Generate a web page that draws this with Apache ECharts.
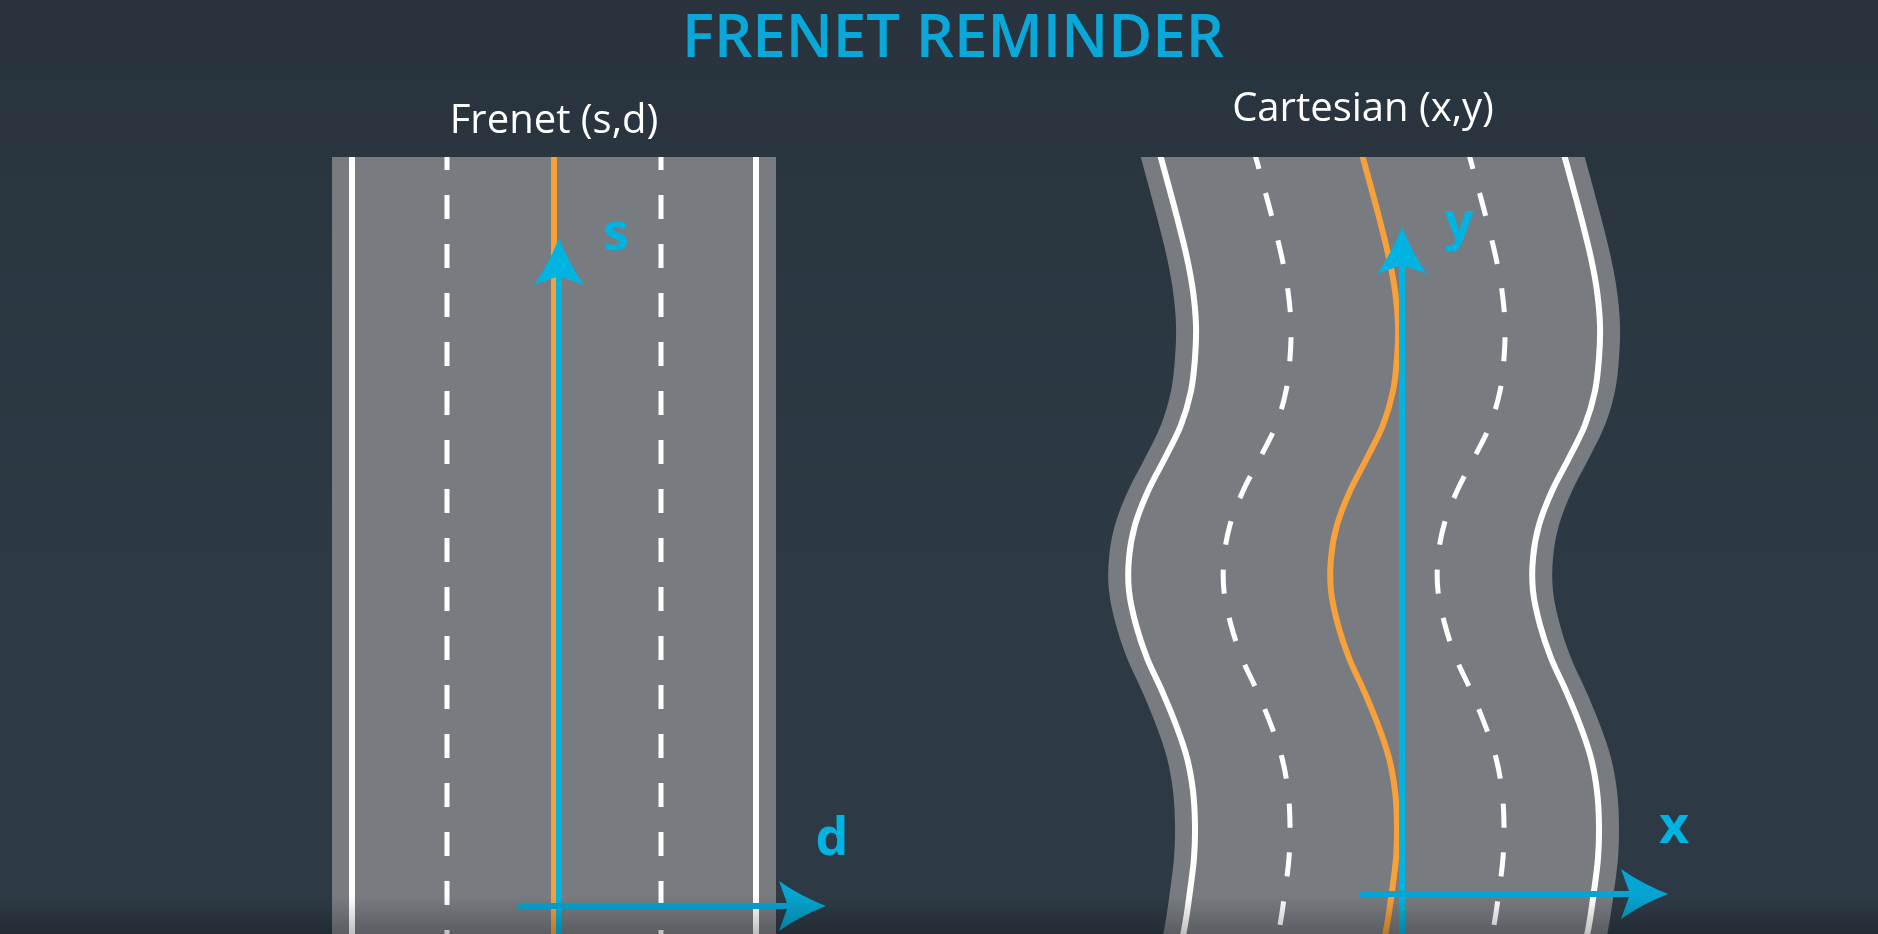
<!DOCTYPE html>
<html>
<head>
<meta charset="utf-8">
<title>Frenet reminder</title>
<script src="https://cdn.jsdelivr.net/npm/echarts@6/dist/echarts.min.js"></script>
<style>
    html, body { margin: 0; padding: 0; background: #2b3843; }
    #chart { width: 1878px; height: 934px; }
</style>
</head>
<body>
<div id="chart"></div>
<script>
//== 数据: 参考线 (橙色) 采样, 纵向位置 / 横向位置
var frenetRefY = [40, 1000];
var frenetRefX = [554, 554];
var cartRefY = [25, 58, 91, 125, 158, 191, 225, 258, 291, 325, 358, 391, 425, 458, 491, 525, 558, 591, 625, 658, 691, 725, 758, 791, 825, 858, 891, 925, 958, 991, 1025];
var cartRefX = [1327, 1336, 1345, 1354, 1363, 1372, 1381, 1389, 1395, 1398, 1397, 1393, 1383, 1367, 1350, 1337, 1331, 1331, 1338, 1349, 1364, 1378, 1389, 1395, 1397, 1396, 1392, 1387, 1380, 1371, 1360];

//== 车道标线相对参考线的横向偏移 d
var laneKinds = ['edge', 'solid', 'dash', 'ref', 'dash', 'solid', 'edge'];
var laneOffsets = [-222, -202, -107, 0, 107, 202, 222];

//== 坐标轴箭头 (起点 -> 终点) 与名称
var arrowNames = ['s', 'd', 'y', 'x'];
var arrowFrom = [[559, 1000], [518, 906], [1402, 1000], [1359, 894]];
var arrowTo = [[559, 238], [826, 906], [1402, 227], [1668, 894]];

var ROAD = '#787c81';
var ORANGE = '#f8a03a';
var BLUE = '#00b3e0';
var BLUE_DARK = '#06a4d0';
var SMOOTH = 0.35;
var FONT = '"Open Sans", "Noto Sans", sans-serif';

var frenetChart = function () {
    /**
     * 路面填充 (左右边缘之间的多边形)
     */
    var roadFill = function (refX, refY) {
        var leftOff = laneOffsets[0], rightOff = laneOffsets[laneOffsets.length - 1];
        return {
            type: 'custom',
            coordinateSystem: 'cartesian2d',
            silent: true,
            clip: true,
            z: 1,
            data: [[0, 0]],
            renderItem: function (params, api) {
                var left = [], right = [];
                for (var i = 0; i < refY.length; i++) {
                    left.push(api.coord([refX[i] + leftOff, refY[i]]));
                    right.unshift(api.coord([refX[i] + rightOff, refY[i]]));
                }
                return {
                    type: 'polygon',
                    shape: { points: left.concat(right), smooth: refY.length > 2 ? SMOOTH : 0 },
                    style: { fill: ROAD }
                };
            }
        };
    };

    /**
     * 车道标线 (每条标线 = 参考线 + 横向偏移)
     */
    var laneLines = function (refX, refY, dashOffset) {
        var data = [];
        laneOffsets.forEach(function (off, k) {
            if (laneKinds[k] !== 'edge') {
                data.push([off, k]);
            }
        });
        return {
            type: 'custom',
            coordinateSystem: 'cartesian2d',
            silent: true,
            clip: true,
            z: 2,
            data: data,
            renderItem: function (params, api) {
                var off = api.value(0);
                var kind = laneKinds[api.value(1)];
                var points = refY.map(function (y, i) {
                    return api.coord([refX[i] + off, y]);
                });
                var style = { fill: null, stroke: '#ffffff', lineWidth: 6 };
                if (kind === 'dash') {
                    style.lineWidth = 5;
                    style.lineDash = [24, 25];
                    style.lineDashOffset = dashOffset;
                } else if (kind === 'ref') {
                    style.stroke = ORANGE;
                }
                return {
                    type: 'polyline',
                    shape: { points: points, smooth: refY.length > 2 ? SMOOTH : 0 },
                    style: style
                };
            }
        };
    };

    /**
     * 坐标轴箭头
     */
    var arrows = function () {
        return {
            type: 'custom',
            coordinateSystem: 'cartesian2d',
            silent: true,
            clip: false,
            z: 5,
            data: arrowNames.map(function (n, i) {
                return [arrowFrom[i][0], arrowFrom[i][1], arrowTo[i][0], arrowTo[i][1]];
            }),
            renderItem: function (params, api) {
                var p0 = api.coord([api.value(0), api.value(1)]);
                var p1 = api.coord([api.value(2), api.value(3)]);
                var dx = p1[0] - p0[0], dy = p1[1] - p0[1];
                var len = Math.sqrt(dx * dx + dy * dy);
                var ux = dx / len, uy = dy / len, nx = -uy, ny = ux;
                var headLen = 47, half = 25, notch = 9;
                var horizontal = Math.abs(ux) > Math.abs(uy);
                var color = horizontal ? BLUE_DARK : BLUE;
                var bx = p1[0] - ux * headLen, by = p1[1] - uy * headLen;
                var c1 = [bx + nx * half, by + ny * half];
                var c2 = [bx - nx * half, by - ny * half];
                var nt = [bx + ux * notch, by + uy * notch];
                var m1 = [(p1[0] + c1[0]) / 2 - ux * 3 - nx * 2, (p1[1] + c1[1]) / 2 - uy * 3 - ny * 2];
                var m2 = [(p1[0] + c2[0]) / 2 - ux * 3 + nx * 2, (p1[1] + c2[1]) / 2 - uy * 3 + ny * 2];
                var path = 'M' + p1[0] + ' ' + p1[1] +
                    'Q' + m1[0] + ' ' + m1[1] + ' ' + c1[0] + ' ' + c1[1] +
                    'L' + nt[0] + ' ' + nt[1] +
                    'L' + c2[0] + ' ' + c2[1] +
                    'Q' + m2[0] + ' ' + m2[1] + ' ' + p1[0] + ' ' + p1[1] + 'Z';
                var label = horizontal ? [p1[0] + 6, p1[1] - 66] : [p1[0] + 57, p1[1] - 3];
                return {
                    type: 'group',
                    children: [{
                        type: 'line',
                        shape: { x1: p0[0], y1: p0[1], x2: nt[0], y2: nt[1] },
                        style: { stroke: color, lineWidth: 6 }
                    }, {
                        type: 'path',
                        shape: { pathData: path },
                        style: { fill: color }
                    }, {
                        type: 'text',
                        x: label[0],
                        y: label[1],
                        style: {
                            text: arrowNames[params.dataIndex],
                            fill: BLUE,
                            font: '700 52px ' + FONT,
                            align: 'center',
                            verticalAlign: 'middle'
                        }
                    }]
                };
            }
        };
    };

    var initCharts = function (selector) {
        var myChart = echarts.init(document.querySelector(selector));
        var series = [
            roadFill(frenetRefX, frenetRefY),
            roadFill(cartRefX, cartRefY),
            laneLines(frenetRefX, frenetRefY, 41),
            laneLines(cartRefX, cartRefY, 22),
            arrows()
        ];
        var option = {
            animation: false,
            backgroundColor: {
                type: 'linear', x: 0, y: 0, x2: 0, y2: 1,
                colorStops: [
                    { offset: 0, color: '#28333d' },
                    { offset: 0.6, color: '#2d3a45' },
                    { offset: 1, color: '#2d3a45' }
                ]
            },
            grid: { left: 0, right: 0, top: 157, bottom: 0 },
            xAxis: { type: 'value', min: 0, max: 1878, show: false },
            yAxis: { type: 'value', min: 157, max: 934, inverse: true, show: false },
            graphic: [{
                type: 'text', x: 953, y: 40, silent: true,
                style: { text: 'FRENET REMINDER', fill: '#0aa8d8', font: '600 60px ' + FONT, align: 'center', verticalAlign: 'middle' }
            }, {
                type: 'text', x: 554, y: 122, silent: true,
                style: { text: 'Frenet (s,d)', fill: '#ffffff', font: '400 40px ' + FONT, align: 'center', verticalAlign: 'middle' }
            }, {
                type: 'text', x: 1363, y: 110, silent: true,
                style: { text: 'Cartesian (x,y)', fill: '#ffffff', font: '400 40px ' + FONT, align: 'center', verticalAlign: 'middle' }
            }, {
                type: 'rect', silent: true, z: 100,
                shape: { x: 0, y: 896, width: 1878, height: 38 },
                style: {
                    fill: {
                        type: 'linear', x: 0, y: 0, x2: 0, y2: 1,
                        colorStops: [{ offset: 0, color: 'rgba(0,0,0,0)' }, { offset: 1, color: 'rgba(0,0,0,0.25)' }]
                    }
                }
            }],
            series: series
        };
        myChart.setOption(option, true);
    };

    return {
        init: function () {
            initCharts('#chart');
        }
    };
}();

frenetChart.init();
</script>
</body>
</html>
